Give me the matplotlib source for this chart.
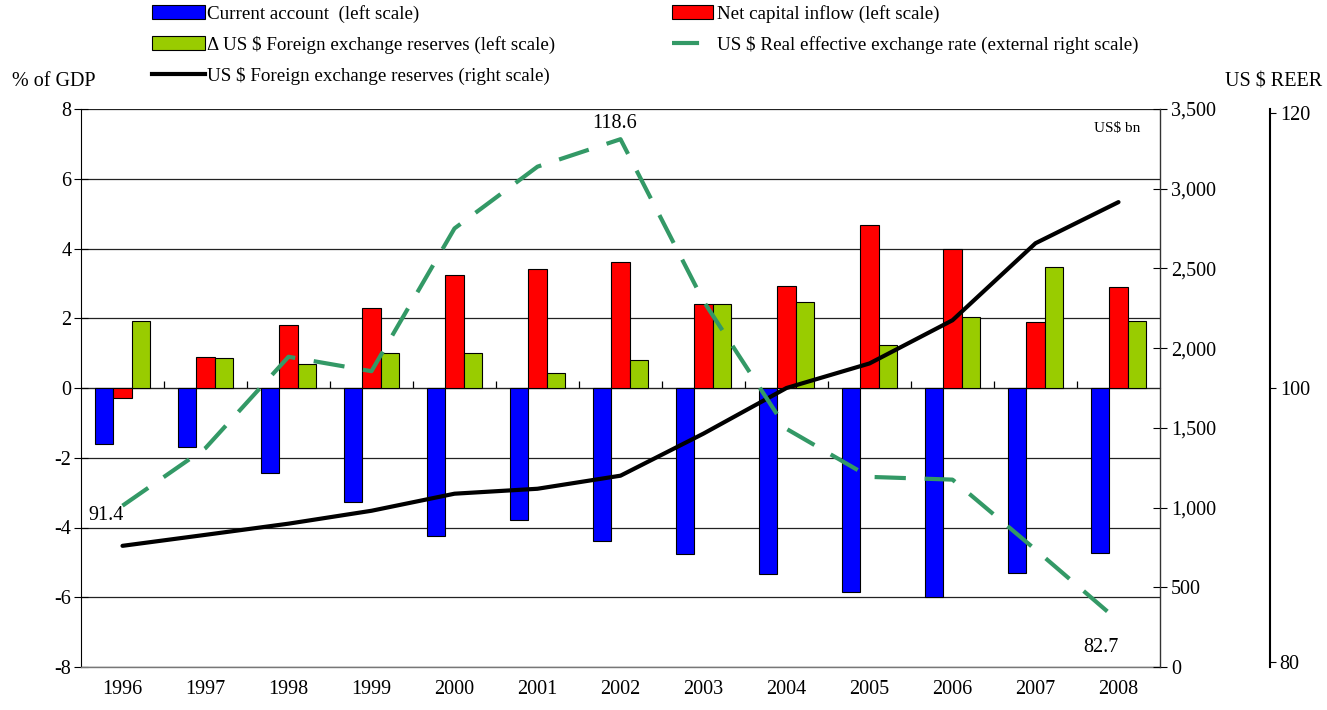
import matplotlib
matplotlib.use("Agg")
import matplotlib.pyplot as plt
from matplotlib.patches import Patch
from matplotlib.lines import Line2D
import numpy as np

plt.rcParams['font.family'] = ['Liberation Serif', 'DejaVu Serif']

years = ['1996', '1997', '1998', '1999', '2000', '2001', '2002',
         '2003', '2004', '2005', '2006', '2007', '2008']
current_account = [-1.6, -1.7, -2.45, -3.26, -4.24, -3.78, -4.4,
                   -4.76, -5.33, -5.85, -6.0, -5.3, -4.73]
net_capital_inflow = [-0.3, 0.88, 1.8, 2.28, 3.23, 3.4, 3.62,
                      2.4, 2.92, 4.67, 3.98, 1.88, 2.89]
delta_reserves = [1.92, 0.85, 0.7, 0.99, 1.01, 0.43, 0.81,
                  2.4, 2.46, 1.22, 2.03, 3.46, 1.91]
reserves_bn = [760, 829, 899, 980, 1087, 1118, 1200,
               1464, 1750, 1904, 2175, 2658, 2916]
reer = [91.4, 95.6, 102.25, 101.2, 111.6, 116.1, 118.1,
        106.3, 97.0, 93.5, 93.3, 88.2, 83.0]
reer_labels = {0: '91.4', 6: '118.6', 12: '82.7'}

c_blue = '#0000FF'
c_red = '#FF0000'
c_green = '#99CC00'
c_reer = '#339966'
fs = 14.5

fig = plt.figure(figsize=(13.27, 7.10), dpi=100)
ax = fig.add_axes([81/1327, 1 - 667/710, (1160 - 81)/1327, (667 - 109)/710])

x = np.arange(len(years))
w = 0.22
ax.bar(x - w, current_account, w, color=c_blue, edgecolor='black', linewidth=0.8, zorder=3)
ax.bar(x, net_capital_inflow, w, color=c_red, edgecolor='black', linewidth=0.8, zorder=3)
ax.bar(x + w, delta_reserves, w, color=c_green, edgecolor='black', linewidth=0.8, zorder=3)

ax.set_xlim(-0.5, len(years) - 0.5)
ax.set_ylim(-8, 8)
ax.set_yticks(range(-8, 9, 2))
ax.set_yticklabels([str(v) for v in range(-8, 9, 2)])
ax.grid(axis='y', color='#222222', linewidth=0.9, zorder=0)
ax.set_axisbelow(True)
for s in ['top', 'right']:
    ax.spines[s].set_visible(False)
ax.spines['bottom'].set_color('#777777')
ax.spines['bottom'].set_linewidth(1.0)
ax.tick_params(axis='y', direction='inout', length=10, labelsize=fs, pad=2)
ax.set_xticks(x)
ax.set_xticklabels(years)
ax.tick_params(axis='x', length=0, labelsize=fs, pad=9)

# zero line with category boundary ticks
sec = ax.secondary_xaxis(0.5)
sec.set_xticks(np.arange(0.5, len(years) - 0.5, 1))
sec.set_xticklabels([])
sec.tick_params(axis='x', direction='out', length=5, width=0.9)
sec.spines['bottom'].set_linewidth(0.9)

# right scale: reserves
ax2 = ax.twinx()
ax2.plot(x, reserves_bn, color='black', linewidth=3, solid_capstyle='round', zorder=4)
ax2.set_ylim(0, 3500)
ax2.set_yticks(range(0, 3501, 500))
ax2.set_yticklabels([f'{v:,}' for v in range(0, 3501, 500)])
ax2.tick_params(axis='y', direction='inout', length=10, labelsize=fs, pad=3)
for s in ['top', 'bottom', 'left']:
    ax2.spines[s].set_visible(False)
ax2.spines['right'].set_linewidth(1.0)
ax2.spines['right'].set_color('#333333')
ax2.text(0.982, 0.965, 'US$ bn', transform=ax2.transAxes, ha='right', va='center', fontsize=11)

# external right scale: REER
ax3 = ax.twinx()
ax3.plot(x, reer, color=c_reer, linewidth=3, dashes=(7.5, 4.5), zorder=5)
ax3.set_ylim(79.65, 120.3)
ax3.set_yticks([80, 100, 120])
ax3.spines['right'].set_position(('axes', (1270 - 81) / (1160 - 81)))
for s in ['top', 'bottom', 'left']:
    ax3.spines[s].set_visible(False)
ax3.spines['right'].set_linewidth(1.5)
ax3.tick_params(axis='y', direction='out', length=4, labelsize=fs, pad=3)

label_offsets = {0: (-12, -7), 6: (-4, 11), 12: (-13, -19)}
for i, txt in reer_labels.items():
    ax3.annotate(txt, (x[i], reer[i]), xytext=label_offsets[i], textcoords='offset points',
                 ha='center', va='center', fontsize=fs)

fig.text(12/1327, 1 - 82/710, '% of GDP', ha='left', va='center', fontsize=fs)
fig.text(1322/1327, 1 - 82/710, 'US $ REER', ha='right', va='center', fontsize=fs)

leg_kw = dict(loc='upper left', frameon=False, fontsize=13.7, handleheight=0.74,
              labelspacing=0.68, borderpad=0, borderaxespad=0)
h1 = [
    Patch(facecolor=c_blue, edgecolor='black', linewidth=0.8),
    Patch(facecolor=c_green, edgecolor='black', linewidth=0.8),
    Line2D([], [], color='black', linewidth=3),
]
l1 = ['Current account  (left scale)',
      '\u0394 US $ Foreign exchange reserves (left scale)',
      'US $ Foreign exchange reserves (right scale)']
fig.legend(h1, l1, bbox_to_anchor=(152/1327, 1 - 5/710), handlelength=2.8,
           handletextpad=0.1, **leg_kw)
h2 = [
    Patch(facecolor=c_red, edgecolor='black', linewidth=0.8),
    Line2D([], [], color=c_reer, linewidth=3, dashes=(6.5, 20)),
]
l2 = ['Net capital inflow (left scale)',
      'US $ Real effective exchange rate (external right scale)']
fig.legend(h2, l2, bbox_to_anchor=(672/1327, 1 - 5/710), handlelength=2.15,
           handletextpad=0.2, **leg_kw)

fig.savefig('out.png', dpi=100)
